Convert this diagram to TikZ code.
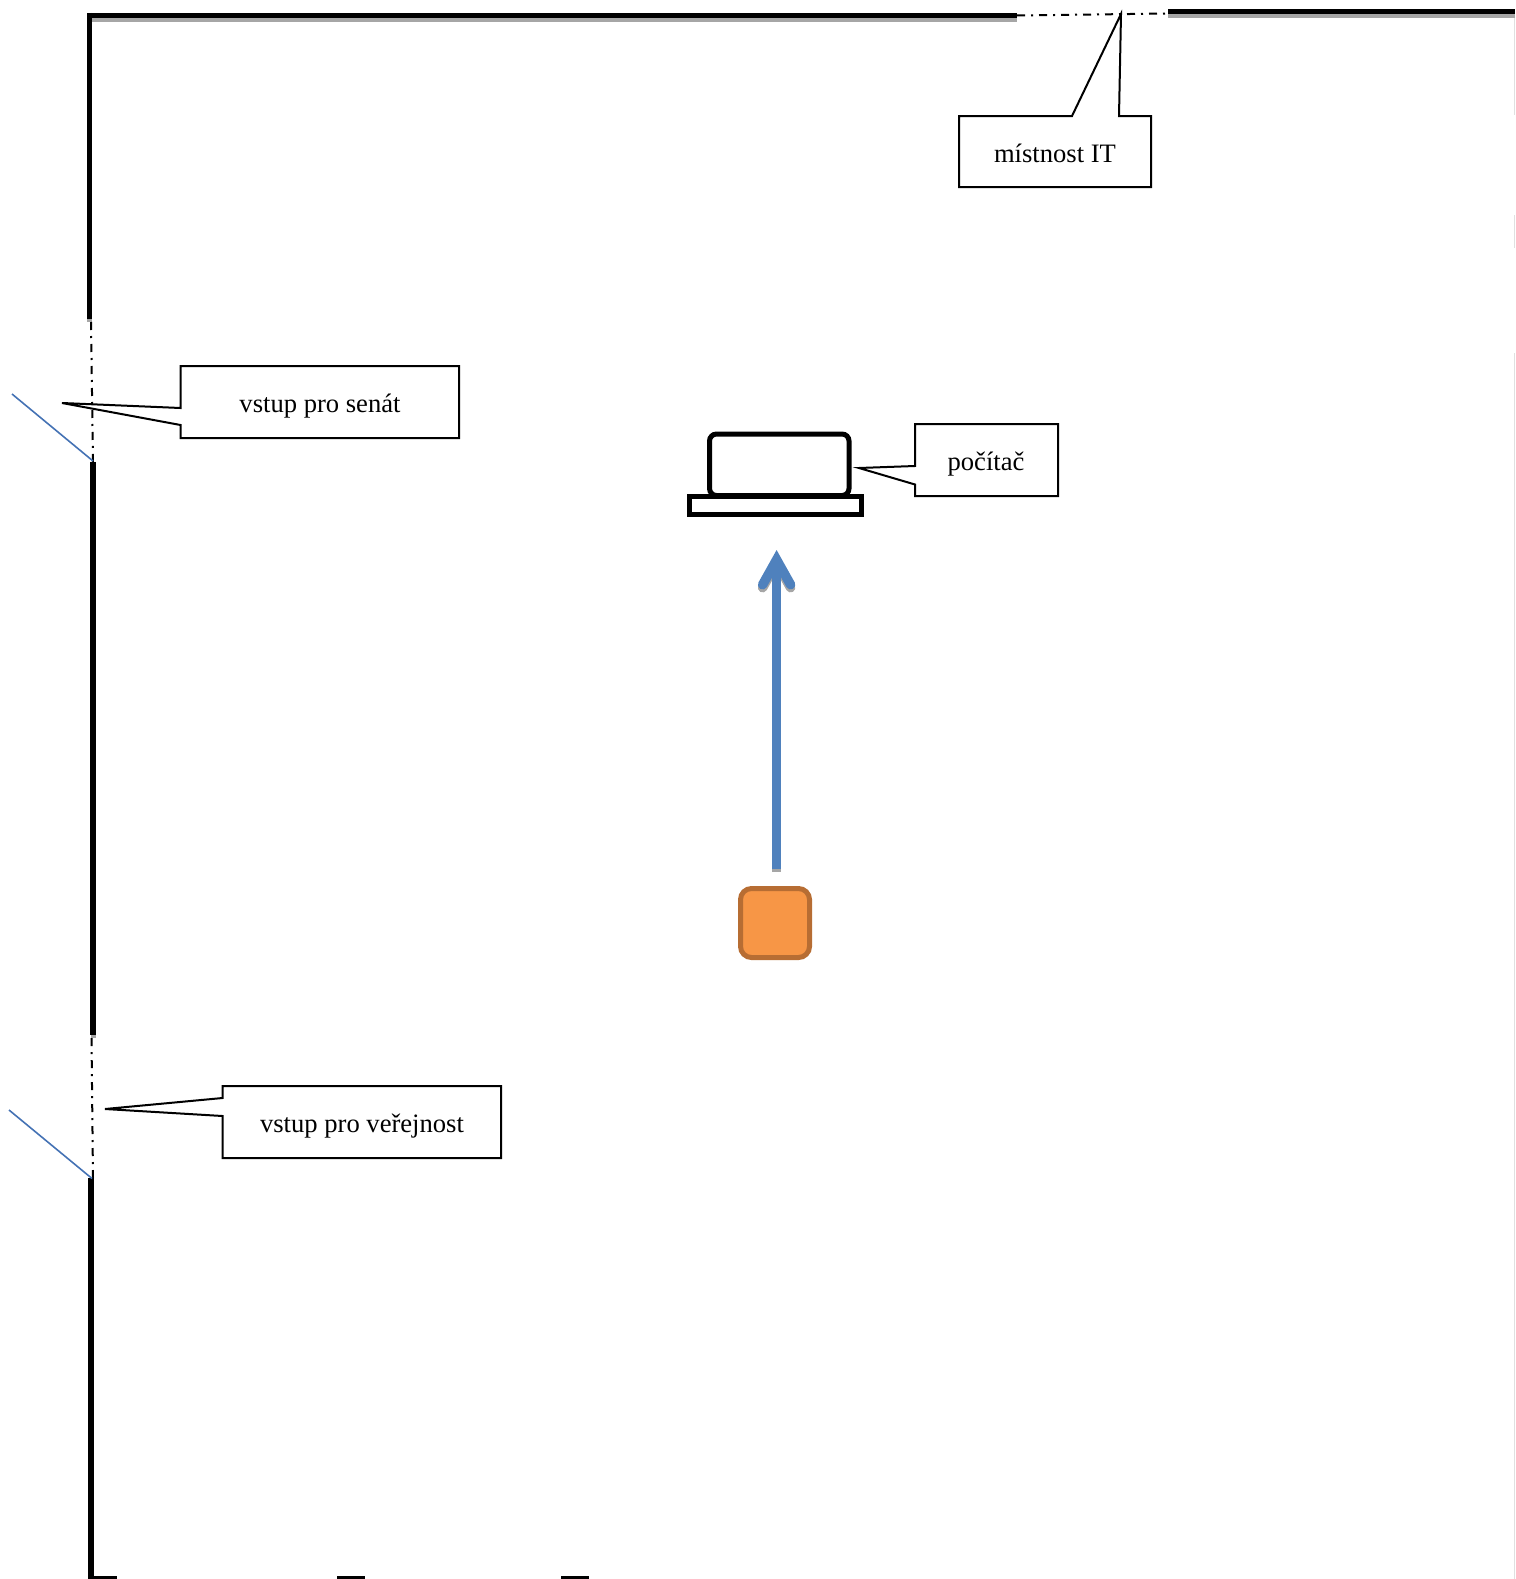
\documentclass[tikz,border=0pt]{standalone}
\usepackage{fontspec}
\setmainfont{Liberation Serif}
\usetikzlibrary{arrows.meta}
\definecolor{doorblue}{RGB}{68,114,180}
\definecolor{arrowblue}{RGB}{79,129,189}
\definecolor{boxorange}{RGB}{247,150,70}
\definecolor{boxborder}{RGB}{183,109,51}
\tikzset{
  wall/.style={line width=5.3pt},
  wallshade/.style={line width=4pt, color=black!35},
  edgeshade/.style={line width=1pt, color=black!12},
  opening/.style={line width=2pt, dash pattern=on 8pt off 6pt on 2pt off 6pt},
  door/.style={line width=1.6pt, doorblue},
  callout/.style={draw, line width=2pt, fill=white, line join=miter},
  calloutlabel/.style={inner sep=0pt, font=\fontsize{26.6pt}{30pt}\selectfont},
  pc/.style={line width=5pt},
  walkarrow/.style={line width=9.5pt, -{Straight Barb[length=25pt, width=28pt, line cap=round, line join=miter]}}
}
\begin{document}
\begin{tikzpicture}[x=1pt, y=-1pt]
    \useasboundingbox (0, 0) rectangle (1515, 1579);

    % Page edge
    \draw[edgeshade] (1514.5, 18) -- (1514.5, 115);
    \draw[edgeshade] (1514.5, 215) -- (1514.5, 248);
    \draw[edgeshade] (1514.5, 353) -- (1514.5, 1579);

    % Walls
    \draw[wallshade] (92, 20) -- (1017, 20);
    \draw[wallshade] (1168, 16) -- (1515, 16);
    \draw[wallshade, line width=5pt] (89.5, 317) -- (89.5, 322);
    \draw[wallshade, line width=5pt] (93, 1034) -- (93, 1038);
    \draw[wall] (87, 15.5) -- (1017, 15.5);
    \draw[wall] (1168, 11.5) -- (1515, 11.5);
    \draw[wall] (89.5, 13) -- (89.5, 319);
    \draw[wall] (93, 462) -- (93, 1035);
    \draw[wall] (91, 1178) -- (91, 1579);
    \draw[wall] (88.5, 1578.5) -- (117, 1578.5);
    \draw[wall] (337, 1578.5) -- (365, 1578.5);
    \draw[wall] (561, 1578.5) -- (589, 1578.5);

    % Openings
    \draw[opening] (1017, 15.5) -- (1168, 13.5);
    \draw[opening] (91, 322) -- (93, 462);
    \draw[opening] (91.5, 1038) -- (93, 1178);

    % Doors
    \draw[door] (12, 394) -- (93, 461);
    \draw[door] (9, 1110) -- (92, 1178.5);

    % Computer
    \draw[pc, rounded corners=7pt] (709.5, 434) rectangle (849, 495.5);
    \draw[pc] (689.5, 496.5) rectangle (861.5, 514.5);

    % Person
    \node[draw=boxborder, fill=boxorange, line width=5pt, rounded corners=11pt, minimum size=69pt, inner sep=0pt] at (775, 923) (person) {};

    % Walking direction
    \coordinate (walkstart) at (776.6, 869);
    \coordinate (walkend) at (776.6, 550);
    \draw[walkarrow, black!35] ([yshift=-3pt]walkstart) -- ([yshift=-3pt]walkend);
    \draw[walkarrow, arrowblue] (walkstart) -- (walkend);

    % Callouts
    \draw[callout] (959, 116) -- (1072, 116) -- (1121, 14) -- (1119, 116) -- (1151, 116) -- (1151, 187) -- (959, 187) -- cycle;
    \node[calloutlabel] at (1055, 153) (it) {místnost IT};

    \draw[callout] (180.5, 366) -- (459, 366) -- (459, 438) -- (180.5, 438) -- (180.5, 425) -- (62, 403) -- (180.5, 408) -- cycle;
    \node[calloutlabel] at (320, 406) (senat) {vstup pro senát};

    \draw[callout] (222.5, 1086) -- (501, 1086) -- (501, 1158) -- (222.5, 1158) -- (222.5, 1116) -- (105, 1109) -- (222.5, 1098) -- cycle;
    \node[calloutlabel] at (362, 1126) (verejnost) {vstup pro veřejnost};

    \draw[callout] (915, 424) -- (1058, 424) -- (1058, 496) -- (915, 496) -- (915, 484.5) -- (859, 468) -- (915, 466) -- cycle;
    \node[calloutlabel] at (986, 464) (pocitac) {počítač};

\end{tikzpicture}
\end{document}
